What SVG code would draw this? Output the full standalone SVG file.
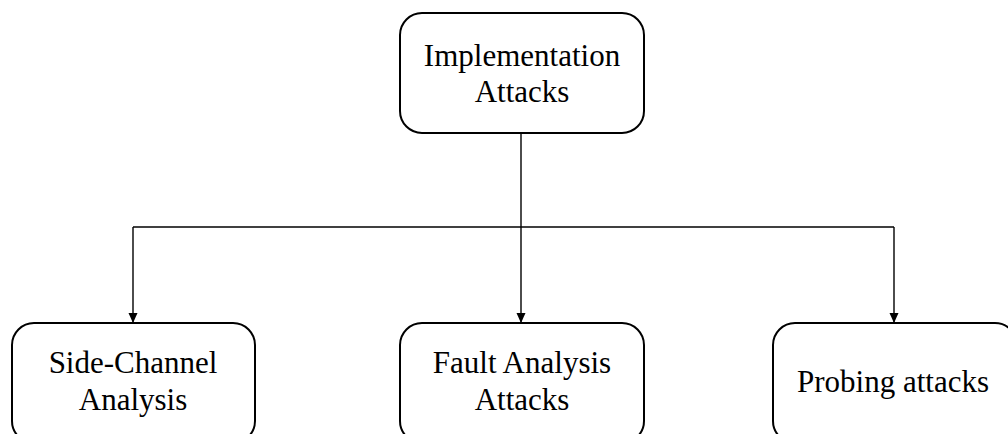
<svg xmlns="http://www.w3.org/2000/svg" width="1008" height="434" viewBox="0 0 1008 434">
  <style>
    .box { fill: #ffffff; stroke: #000000; stroke-width: 2; }
    .lbl { font-family: "Liberation Serif", "Times New Roman", serif; font-size: 31px; fill: #000000; text-anchor: middle; }
    .wire { fill: none; stroke: #000000; stroke-width: 1.4; }
  </style>
  <defs>
    <marker id="arrow" markerUnits="userSpaceOnUse" markerWidth="10" markerHeight="12" refX="10" refY="4.5" orient="auto">
      <path d="M0,0 L10,4.5 L0,9 Z" fill="#000000"/>
    </marker>
  </defs>
  <rect width="1008" height="434" fill="#ffffff"/>

  <g id="connectors">
    <path class="wire" d="M521,133 V227"/>
    <path class="wire" d="M133,227 H894"/>
    <path class="wire" d="M133,227 V323" marker-end="url(#arrow)"/>
    <path class="wire" d="M521,227 V323" marker-end="url(#arrow)"/>
    <path class="wire" d="M894,227 V323" marker-end="url(#arrow)"/>
  </g>

  <g id="implementation-attacks">
    <rect class="box" x="400" y="13" width="244" height="120" rx="22" ry="22"/>
    <text class="lbl" x="522" y="66">Implementation</text>
    <text class="lbl" x="522" y="102">Attacks</text>
  </g>

  <g id="side-channel-analysis">
    <rect class="box" x="12" y="323" width="243" height="120" rx="22" ry="22"/>
    <text class="lbl" x="133" y="373">Side-Channel</text>
    <text class="lbl" x="133" y="410">Analysis</text>
  </g>

  <g id="fault-analysis-attacks">
    <rect class="box" x="400" y="323" width="244" height="120" rx="22" ry="22"/>
    <text class="lbl" x="522" y="373">Fault Analysis</text>
    <text class="lbl" x="522" y="410">Attacks</text>
  </g>

  <g id="probing-attacks">
    <rect class="box" x="773" y="323" width="244" height="120" rx="22" ry="22"/>
    <text class="lbl" x="893" y="392">Probing attacks</text>
  </g>
</svg>
